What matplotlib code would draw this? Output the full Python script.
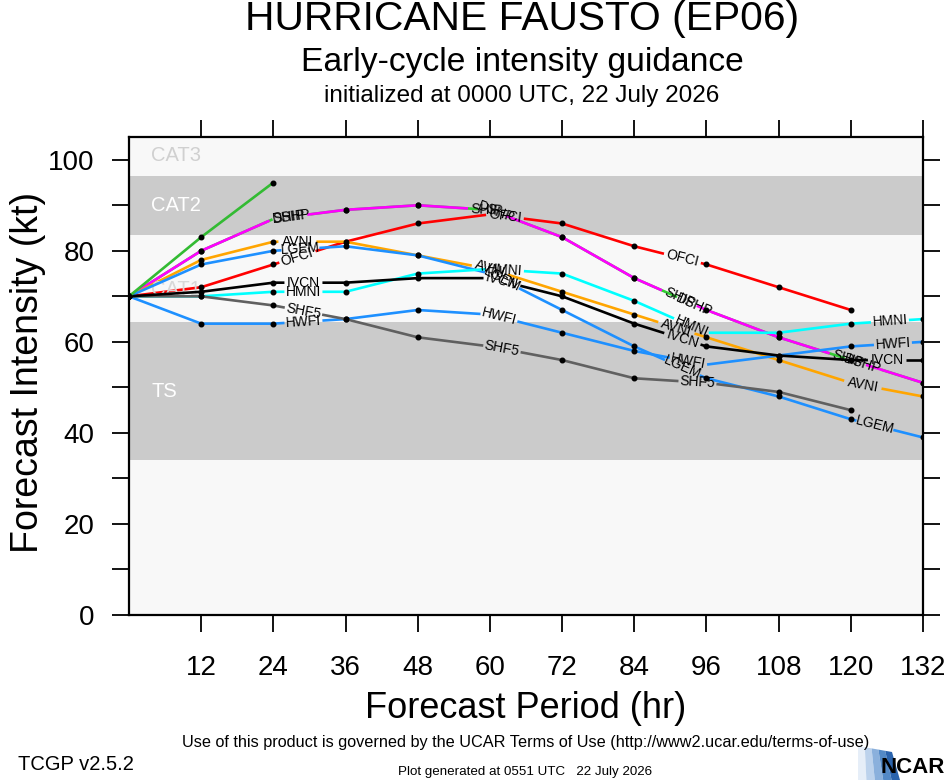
import numpy as np
import matplotlib
matplotlib.use("Agg")
import matplotlib.pyplot as plt
from matplotlib.patches import Polygon

plt.rcParams['font.family'] = ['Liberation Sans', 'DejaVu Sans']

# ---------------- data ----------------
hours = [0, 12, 24, 36, 48, 60, 72, 84, 96, 108, 120, 132]
x_ticks = [12, 24, 36, 48, 60, 72, 84, 96, 108, 120, 132]
y_ticks = [0, 20, 40, 60, 80, 100]

DSHP = [70, 80, 87, 89, 90, 89, 83, 74, 67, 61, 56, 51]
SHIP = [70, 80, 87, 89, 90, 89, 83, 74, 67, 61, 56, 51]
OFCI = [70, 72, 77, 82, 86, 88, 86, 81, 77, 72, 67]
AVNI = [70, 78, 82, 82, 79, 76, 71, 66, 61, 56, 51, 48]
LGEM = [70, 77, 80, 81, 79, 75, 67, 59, 52, 48, 43, 39]
HMNI = [70, 70, 71, 71, 75, 76, 75, 69, 62, 62, 64, 65]
HWFI = [70, 64, 64, 65, 67, 66, 62, 58, 55, 57, 59, 60]
SHF5 = [70, 70, 68, 65, 61, 59, 56, 52, 51, 49, 45]
IVCN = [70, 71, 73, 73, 74, 74, 70, 64, 59, 57, 56, 56]
GREEN = [70, 83, 95]

band_names = ["TS", "CAT1", "CAT2", "CAT3"]
band_lows = [34, 64.3, 83.5, 96.5]
band_highs = [64.3, 83.5, 96.5, 105]

# ---------------- styling ----------------
W, H, DPI = 946, 780, 100
fig = plt.figure(figsize=(W / DPI, H / DPI), dpi=DPI)
fig.patch.set_facecolor("white")

ax_l, ax_r, ax_t, ax_b = 129, 923, 137, 615
ax = fig.add_axes([ax_l / W, 1 - ax_b / H, (ax_r - ax_l) / W, (ax_b - ax_t) / H])
ax.set_xlim(0, 132)
ax.set_ylim(0, 105)
ax.set_facecolor("#f8f8f8")

band_fill = {"TS": "#cbcbcb", "CAT1": "#f8f8f8", "CAT2": "#cbcbcb", "CAT3": "#f8f8f8"}
band_txt = {"TS": "white", "CAT1": "#d8d8d8", "CAT2": "white", "CAT3": "#d0d0d0"}
band_ty = {"TS": 49, "CAT1": 71.5, "CAT2": 90, "CAT3": 101}
for nm, lo, hi in zip(band_names, band_lows, band_highs):
    ax.axhspan(lo, hi, color=band_fill[nm], lw=0, zorder=0)
for nm in band_names:
    zt = 1 if nm != "CAT1" else 6
    ax.text(3.7, band_ty[nm], nm, color=band_txt[nm], fontsize=14.5,
            ha="left", va="center", zorder=zt)

models = [
    ("DSHP", DSHP, "#33cc33", [27, 61, 94, 122]),
    ("SHIP", SHIP, "#ff00ff", [26.5, 59.5, 91.5, 119.5]),
    ("OFCI", OFCI, "#ff0000", [28, 62.5, 92]),
    ("AVNI", AVNI, "#ffa500", [28, 60, 91, 122]),
    ("LGEM", LGEM, "#1e90ff", [28.5, 62, 92, 124]),
    ("HMNI", HMNI, "#00ffff", [29, 62.5, 93.5, 126.5]),
    ("HWFI", HWFI, "#1e90ff", [29, 61.5, 93, 127]),
    ("SHF5", SHF5, "#606060", [29, 62, 94.5]),
    ("IVCN", IVCN, "#000000", [29, 62, 92, 126]),
    ("", GREEN, "#33bb33", []),
]

px_per_h = (ax_r - ax_l) / 132.0
px_per_kt = (ax_b - ax_t) / 105.0
half_gap = 19.0  # pixels along line

z = 2
for name, vals, col, lab_hrs in models:
    v = np.asarray(vals, float)
    h = np.asarray(hours[:len(v)], float)
    gaps = []
    labels = []
    for lh in lab_hrs:
        if lh > h[-1]:
            continue
        i = min(np.searchsorted(h, lh, side="right") - 1, len(h) - 2)
        dxp = (h[i + 1] - h[i]) * px_per_h
        dyp = (v[i + 1] - v[i]) * px_per_kt
        nrm = np.hypot(dxp, dyp)
        ux = dxp / nrm
        dh = half_gap * ux / px_per_h
        gaps.append((lh - dh, lh + dh))
        ang = np.degrees(np.arctan2(dyp, dxp))
        labels.append((lh, np.interp(lh, h, v), ang))
    pieces = []
    cur = [(h[0], v[0])]
    for a, b in gaps:
        for hh, vv in zip(h, v):
            if cur[-1][0] < hh < a:
                cur.append((hh, vv))
        cur.append((a, np.interp(a, h, v)))
        pieces.append(cur)
        cur = [(b, np.interp(b, h, v))]
    for hh, vv in zip(h, v):
        if hh > cur[-1][0]:
            cur.append((hh, vv))
    pieces.append(cur)
    for p in pieces:
        p = np.array(p)
        if len(p) > 1:
            ax.plot(p[:, 0], p[:, 1], color=col, lw=1.9, zorder=z,
                    solid_capstyle="butt")
    keep = np.ones(len(h), bool)
    for a, b in gaps:
        keep &= ~((h > a) & (h < b))
    ax.plot(h[keep], v[keep], "o", color="black", ms=3.3, zorder=z + 0.5)
    for lh, lv, ang in labels:
        ax.text(lh, lv, name, rotation=ang, rotation_mode="anchor",
                ha="center", va="center", fontsize=10, color="black",
                zorder=20)
    z += 1

# axes / ticks
for s in ax.spines.values():
    s.set_linewidth(1.6)
    s.set_zorder(30)
ax.set_xticks(x_ticks)
ax.set_yticks(y_ticks)
ax.set_yticks([10, 30, 50, 70, 90], minor=True)
ax.tick_params(axis="both", which="both", direction="out", length=12,
               width=1.3, top=True, right=True, labelsize=20)
ax.tick_params(axis="x", pad=17)
ax.tick_params(axis="y", pad=13)

fig.text(526 / W, 1 - 708 / H, "Forecast Period (hr)", fontsize=26,
         ha="center", va="center")
fig.text(28 / W, 1 - 372 / H, "Forecast Intensity (kt)", fontsize=27,
         ha="center", va="center", rotation=90)

fig.text(522 / W, 1 - 19 / H, "HURRICANE FAUSTO (EP06)", fontsize=29.3,
         ha="center", va="center")
fig.text(522 / W, 1 - 62 / H, "Early-cycle intensity guidance", fontsize=24.2,
         ha="center", va="center")
fig.text(522 / W, 1 - 96 / H, "initialized at 0000 UTC, 22 July 2026",
         fontsize=17.5, ha="center", va="center")

fig.text(526 / W, 1 - 743 / H,
         "Use of this product is governed by the UCAR Terms of Use "
         "(http://www2.ucar.edu/terms-of-use)", fontsize=11.7,
         ha="center", va="center")
fig.text(18 / W, 1 - 765 / H, "TCGP v2.5.2", fontsize=14.5,
         ha="left", va="center")
fig.text(525 / W, 1 - 772 / H, "Plot generated at 0551 UTC   22 July 2026",
         fontsize=9.6, ha="center", va="center")

# NCAR logo
logo_ax = fig.add_axes([855 / W, 0, 91 / W, 34 / H])
logo_ax.set_xlim(0, 91)
logo_ax.set_ylim(0, 34)
logo_ax.axis("off")
shades = ["#e6eef8", "#bcd2ec", "#8ab0dc", "#5389c6", "#2a63ad"]
for k, c in enumerate(shades):
    t0 = k / len(shades)
    t1 = (k + 1) / len(shades)
    xs0 = 3 + 34 * t0
    xs1 = 3 + 34 * t1
    poly = Polygon([[xs0, 34 - 6 * t0], [xs1, 34 - 6 * t1],
                    [xs1 + 8 * t1, 0], [xs0 + 8 * t0, 0]],
                   closed=True, color=c, lw=0)
    logo_ax.add_patch(poly)
logo_ax.text(90, 2, "NCAR", fontsize=16, fontweight="bold", ha="right",
             va="bottom", color="black")

fig.savefig("out.png", dpi=DPI, facecolor="white")
